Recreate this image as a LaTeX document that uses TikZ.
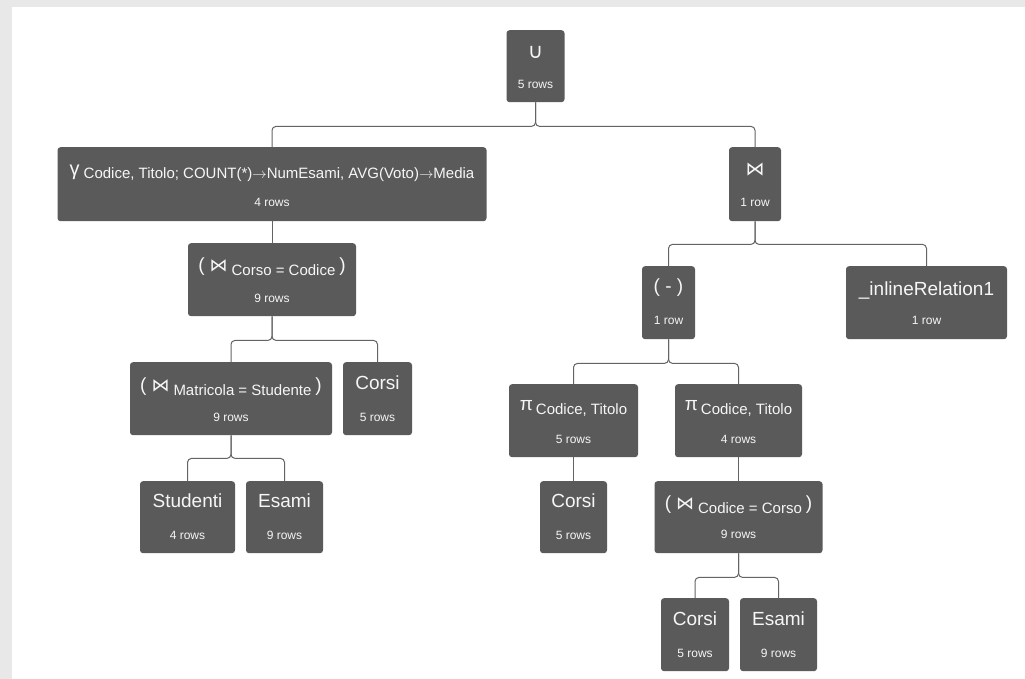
\documentclass[tikz,border=0pt]{standalone}
\usepackage{fontspec}
\setmainfont{Liberation Sans}
\newfontfamily\symf{DejaVu Sans}
\definecolor{boxc}{RGB}{90,90,90}
\definecolor{linec}{RGB}{100,100,100}
\definecolor{bgc}{RGB}{232,232,232}
\definecolor{txtc}{RGB}{246,246,246}
\newcommand\bigf{\fontsize{19}{22}\selectfont}
\newcommand\subf{\fontsize{15}{18}\selectfont}
\newcommand\parf{\fontsize{19}{22}\selectfont}
\newcommand\arr{\(\rightarrow\)}
\newcommand\joinlabel[1]{{\parf\raisebox{4pt}{(}}\hspace{5pt}{\symf\fontsize{18}{20}\selectfont\raisebox{4pt}{⋈}}\hspace{4pt}{\subf #1}\hspace{4pt}{\parf\raisebox{4pt}{)}}}
\newcommand\pilabel[1]{{\fontsize{19}{22}\selectfont\raisebox{4pt}{π}}\hspace{3pt}{\subf #1}}
\tikzset{
  opbox/.style={fill=boxc, draw=none, rounded corners=3pt, inner sep=0pt},
  lbl/.style={text=txtc, inner sep=0pt, font=\bigf},
  rowlbl/.style={text=txtc, inner sep=0pt, font=\fontsize{12}{14}\selectfont},
  conn/.style={draw=linec, line width=1pt, rounded corners=4pt},
}
% name, cx, top, width, height, label offset, label, rows offset, rows
\newcommand\opnode[9]{%
  \node[opbox, minimum width=#4pt, minimum height=#5pt, anchor=north] (#1) at (#2,#3) {};
  \node[lbl] (#1-l) at ([yshift=-#6pt]#1.north) {#7};
  \node[rowlbl] (#1-r) at ([yshift=-#8pt]#1.north) {#9};
}
\begin{document}
\begin{tikzpicture}[x=1pt,y=-1pt]
\fill[bgc] (0,0) rectangle (1025,679);
\fill[white] (12,7) rectangle (1025,679);
\useasboundingbox (0,0) rectangle (1025,679);

\opnode{root}{535.5}{30}{58}{72}{22}{{\symf\fontsize{21}{24}\selectfont ∪}}{54}{5 rows}
\opnode{gamma}{272}{147}{429}{74}{26}{{\fontsize{20}{22}\selectfont\raisebox{3pt}{γ}}\hspace{4pt}{\subf Codice, Titolo; COUNT(*)\arr NumEsami, AVG(Voto)\arr Media}}{55}{4 rows}
\opnode{join}{755}{147}{52}{74}{23}{{\symf\fontsize{19}{21}\selectfont ⋈}}{55}{1 row}
\opnode{cc}{272}{243}{168}{73}{24}{\joinlabel{Corso = Codice}}{55}{9 rows}
\opnode{ms}{231}{362}{202}{73}{25}{\joinlabel{Matricola = Studente}}{55}{9 rows}
\opnode{corsiA}{377.5}{362}{69}{73}{20.5}{Corsi}{55}{5 rows}
\opnode{stud}{187.5}{481}{95}{72}{20}{Studenti}{54}{4 rows}
\opnode{esamiA}{284.5}{481}{77}{72}{20}{Esami}{54}{9 rows}
\opnode{minus}{668.5}{266}{53}{73}{22}{{\fontsize{19}{22}\selectfont ( - )}}{54}{1 row}
\opnode{inl}{926.5}{266}{161}{73}{25}{\_inlineRelation1}{54}{1 row}
\opnode{piA}{573.5}{384}{129}{73}{24}{\pilabel{Codice, Titolo}}{55}{5 rows}
\opnode{piB}{738.5}{384}{127}{73}{24}{\pilabel{Codice, Titolo}}{55}{4 rows}
\opnode{corsiB}{573.5}{481}{67}{72}{20}{Corsi}{54}{5 rows}
\opnode{cco}{738.5}{481}{168}{72}{24}{\joinlabel{Codice = Corso}}{53}{9 rows}
\opnode{corsiC}{695}{598}{68}{73}{21}{Corsi}{55}{5 rows}
\opnode{esamiB}{778.5}{598}{77}{73}{21}{Esami}{55}{9 rows}

\draw[conn] (root.south) -- ++(0,24) -| (gamma.north);
\draw[conn] (root.south) -- ++(0,24) -| (join.north);
\draw[conn] (gamma.south) -- (cc.north);
\draw[conn] (cc.south) -- ++(0,24) -| (ms.north);
\draw[conn] (cc.south) -- ++(0,24) -| (corsiA.north);
\draw[conn] (ms.south) -- ++(0,23) -| (stud.north);
\draw[conn] (ms.south) -- ++(0,23) -| (esamiA.north);
\draw[conn] (join.south) -- ++(0,23) -| (minus.north);
\draw[conn] (join.south) -- ++(0,23) -| (inl.north);
\draw[conn] (minus.south) -- ++(0,24) -| (piA.north);
\draw[conn] (minus.south) -- ++(0,24) -| (piB.north);
\draw[conn] (piA.south) -- (corsiB.north);
\draw[conn] (piB.south) -- (cco.north);
\draw[conn] (cco.south) -- ++(0,24) -| (corsiC.north);
\draw[conn] (cco.south) -- ++(0,24) -| (esamiB.north);
\end{tikzpicture}
\end{document}
